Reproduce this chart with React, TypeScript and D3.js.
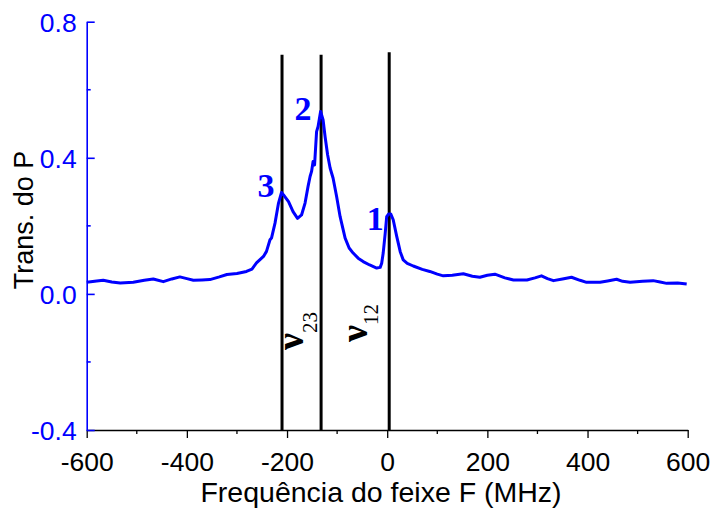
import * as d3 from "d3";
import { useRef, useEffect } from "react";

// espectro de transmissão do feixe P vs frequência do feixe F
const freq = [
  -600, -580, -567, -550, -533, -507, -485, -467, -447, -430, -414, -400, -387, -370, -354, -335,
  -320, -300, -281, -270, -261, -247, -241, -234, -231, -224, -217, -211, -207, -197, -188, -179,
  -171, -164, -158, -154, -151, -148, -145, -141, -138, -133, -128, -124, -119, -114, -108, -101,
  -94, -84, -76, -68, -58, -48, -35, -21, -14, -11, -8, -4, -1, 3, 7, 12, 19, 26, 32, 40, 52, 70,
  85, 100, 112, 130, 152, 170, 185, 200, 215, 235, 252, 279, 295, 308, 320, 332, 350, 368, 385,
  398, 425, 440, 458, 470, 485, 510, 531, 545, 558, 580, 598
];
const trans = [
  0.034, 0.038, 0.04, 0.035, 0.032, 0.034, 0.04, 0.044, 0.036, 0.044, 0.05, 0.045, 0.04, 0.041, 0.042, 0.05,
  0.057, 0.06, 0.066, 0.073, 0.091, 0.11, 0.125, 0.159, 0.164, 0.208, 0.267, 0.298, 0.291, 0.271, 0.242, 0.222,
  0.232, 0.267, 0.316, 0.345, 0.36, 0.389, 0.379, 0.477, 0.492, 0.536, 0.511, 0.462, 0.409, 0.37, 0.34, 0.286,
  0.227, 0.164, 0.135, 0.12, 0.105, 0.095, 0.085, 0.076, 0.078, 0.09, 0.12, 0.178, 0.227, 0.235, 0.235, 0.218, 0.169, 0.124, 0.1, 0.09, 0.082, 0.072,
  0.066, 0.058, 0.053, 0.055, 0.059, 0.052, 0.049, 0.055, 0.058, 0.047, 0.041, 0.041, 0.047, 0.053, 0.045, 0.039, 0.044, 0.049, 0.04,
  0.034, 0.034, 0.038, 0.043, 0.037, 0.034, 0.037, 0.039, 0.035, 0.031, 0.032, 0.029
];

// transições (linhas verticais)
const transitions = [-210, -132, 4];
const transitionTop = [0.703, 0.703, 0.71];

// rótulos dos picos
const peakLabels = ["3", "2", "1"];
const peakX = [-259, -185, -41];
const peakY = [0.285, 0.511, 0.188];

const xTicks = [-600, -400, -200, 0, 200, 400, 600];
const xMinor = [-500, -300, -100, 100, 300, 500];
const yTicks = [-0.4, 0.0, 0.4, 0.8];
const yMinor = [-0.2, 0.2, 0.6];

const BLUE = "#0000ff";
const SANS = "'Liberation Sans', Arial, sans-serif";
const SERIF = "'Liberation Serif', 'Times New Roman', serif";

// hífen simples em vez do sinal de menos tipográfico
const hyphen = (fmt: (n: number) => string) => (d: d3.NumberValue) => fmt(+d).replace("−", "-");

export default function App() {
  const svgRef = useRef<SVGSVGElement>(null);
  const width = 712;
  const height = 518;

  useEffect(() => {
    const svg = d3.select(svgRef.current);
    svg.selectAll("*").remove();

    const x = d3.scaleLinear().domain([-600, 600]).range([86.7, 687.7]);
    const y = d3.scaleLinear().domain([-0.4, 0.8]).range([430, 21.7]);

    // linhas das transições
    svg
      .append("g")
      .selectAll("line")
      .data(transitions)
      .join("line")
      .attr("x1", (d) => x(d))
      .attr("x2", (d) => x(d))
      .attr("y1", y(-0.4))
      .attr("y2", (d, i) => y(transitionTop[i]))
      .attr("stroke", "black")
      .attr("stroke-width", 3);

    // curva
    const pts = freq.map((f, i) => [f, trans[i]] as [number, number]);
    svg
      .append("path")
      .datum(pts)
      .attr("fill", "none")
      .attr("stroke", BLUE)
      .attr("stroke-width", 3)
      .attr("stroke-linejoin", "round")
      .attr("d", d3.line<[number, number]>().x((d) => x(d[0])).y((d) => y(d[1])));

    // eixo x
    const gx = svg.append("g").attr("transform", `translate(0,${y(-0.4)})`);
    gx.call(d3.axisBottom(x).tickValues(xTicks).tickSize(8).tickSizeOuter(0).tickFormat(hyphen(d3.format("d"))));
    gx.append("g").selectAll("line").data(xMinor).join("line")
      .attr("x1", (d) => x(d)).attr("x2", (d) => x(d)).attr("y1", 0).attr("y2", 4)
      .attr("stroke", "black");
    gx.selectAll("path, line").attr("stroke", "black").attr("stroke-width", 1.3);
    gx.selectAll("text")
      .attr("y", 41)
      .attr("dy", 0)
      .style("font-family", SANS)
      .style("font-size", "26.5px")
      .attr("fill", "black");

    // eixo y
    const gy = svg.append("g").attr("transform", `translate(${x(-600)},0)`);
    gy.call(d3.axisRight(y).tickValues(yTicks).tickSize(8).tickSizeOuter(0).tickFormat(hyphen(d3.format(".1f"))));
    gy.append("g").selectAll("line").data(yMinor).join("line")
      .attr("y1", (d) => y(d)).attr("y2", (d) => y(d)).attr("x1", 0).attr("x2", 4)
      .attr("stroke", BLUE);
    gy.selectAll("path, line").attr("stroke", BLUE).attr("stroke-width", 1.6);
    gy.selectAll("text")
      .attr("x", -10)
      .attr("dy", "0.36em")
      .attr("text-anchor", "end")
      .style("font-family", SANS)
      .style("font-size", "26.5px")
      .attr("fill", BLUE);

    // títulos dos eixos
    svg.append("text")
      .attr("x", 381)
      .attr("y", 502)
      .attr("text-anchor", "middle")
      .style("font-family", SANS)
      .style("font-size", "28.5px")
      .attr("fill", "black")
      .text("Frequência do feixe F (MHz)");

    svg.append("text")
      .attr("transform", `translate(33,220) rotate(-90)`)
      .attr("text-anchor", "middle")
      .style("font-family", SANS)
      .style("font-size", "27px")
      .attr("fill", "black")
      .text("Trans. do P");

    // números dos picos
    svg.append("g").selectAll("text").data(peakLabels).join("text")
      .attr("x", (d, i) => x(peakX[i]))
      .attr("y", (d, i) => y(peakY[i]))
      .style("font-family", SERIF)
      .style("font-weight", "bold")
      .style("font-size", "34px")
      .attr("fill", BLUE)
      .text((d) => d);

    // rótulos ν
    const nu = [
      { x: 303, y: 350, sub: "23", dy: 14 },
      { x: 367, y: 342, sub: "12", dy: 11 }
    ];
    nu.forEach((n) => {
      const t = svg.append("text")
        .attr("transform", `translate(${n.x},${n.y}) rotate(-90)`)
        .style("font-family", SERIF)
        .attr("fill", "black");
      t.append("tspan").style("font-size", "38px").style("font-weight", "bold").text("ν");
      t.append("tspan").attr("dy", n.dy).style("font-size", "21px").text(n.sub);
    });
  }, []);

  return (
    <svg
      ref={svgRef}
      width={width}
      height={height}
      style={{ position: "absolute", left: 0, top: 0, background: "white" }}
    />
  );
}
